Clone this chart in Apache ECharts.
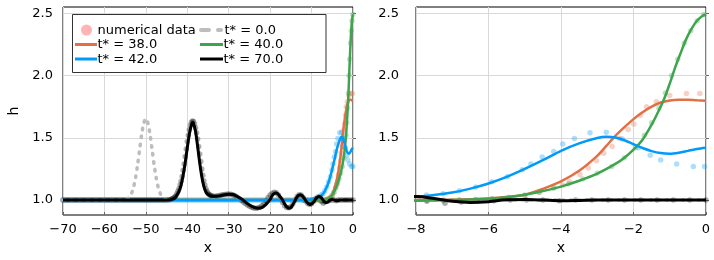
<!DOCTYPE html>
<html><head><meta charset="utf-8">
<script src="https://cdn.jsdelivr.net/npm/echarts@6/dist/echarts.min.js"></script>
<style>html,body{margin:0;padding:0;background:#fff}#c{width:714px;height:260px}</style>
</head><body><div id="c"></div>
<script>
// ---------- data ----------
const yTicks = [1.0, 1.5, 2.0, 2.5];
const xRangeLeft = [-70, 0];
const xRangeRight = [-8, 0];
const lineNames = ['t* = 0.0', 't* = 38.0', 't* = 40.0', 't* = 42.0', 't* = 70.0'];
const dataName = 'numerical data';

const line0 = [[-70,1],[-57,1],[-56,1.001],[-55,1.004],[-54.5,1.01],[-54,1.023],[-53.5,1.05],[-53,1.10],[-52.5,1.177],[-52,1.283],[-51.5,1.407],[-51,1.528],[-50.5,1.617],[-50,1.655],[-49.5,1.617],[-49,1.528],[-48.5,1.407],[-48,1.283],[-47.5,1.177],[-47,1.10],[-46.5,1.05],[-46,1.023],[-45.5,1.01],[-45,1.004],[-44,1.001],[-43,1],[0,1]];

const line38 = [[-70,1],[-10,1],[-8,1.0],[-7,1.003],[-6,1.013],[-5.5,1.024],[-5,1.042],[-4.5,1.09],[-4,1.15],[-3.5,1.235],[-3,1.355],[-2.75,1.435],[-2.5,1.515],[-2.25,1.585],[-2,1.65],[-1.75,1.705],[-1.5,1.75],[-1.25,1.783],[-1,1.80],[-0.75,1.806],[-0.5,1.805],[-0.25,1.801],[0,1.798]];

const line40 = [[-70,1],[-10,1],[-8,0.995],[-7,1.0],[-6,1.01],[-5.5,1.022],[-5,1.042],[-4.5,1.072],[-4,1.108],[-3.5,1.155],[-3,1.212],[-2.5,1.29],[-2.25,1.34],[-2,1.405],[-1.75,1.485],[-1.5,1.605],[-1.3,1.72],[-1.15,1.815],[-1.0,1.935],[-0.85,2.065],[-0.7,2.18],[-0.55,2.29],[-0.4,2.375],[-0.25,2.44],[-0.1,2.478],[0,2.49]];

const line42 = [[-70,1],[-12,1],[-11,1.002],[-10,1.006],[-9,1.014],[-8.5,1.02],[-8,1.027],[-7.5,1.04],[-7,1.06],[-6.5,1.092],[-6,1.133],[-5.5,1.186],[-5,1.25],[-4.5,1.32],[-4,1.395],[-3.5,1.455],[-3,1.498],[-2.75,1.508],[-2.5,1.502],[-2.25,1.48],[-2,1.448],[-1.75,1.418],[-1.5,1.393],[-1.25,1.377],[-1,1.372],[-0.75,1.38],[-0.5,1.395],[-0.25,1.41],[0,1.42]];

const line70 = [[-70,1],[-46,1],[-44,1.003],[-43,1.015],[-42.5,1.04],[-42,1.07],[-41.5,1.12],[-41,1.2],[-40.5,1.3],[-40,1.42],[-39.5,1.53],[-39,1.605],[-38.75,1.622],[-38.5,1.615],[-38,1.55],[-37.5,1.43],[-37,1.30],[-36.5,1.19],[-36,1.11],[-35.5,1.065],[-35,1.045],[-34,1.03],[-33,1.03],[-32,1.035],[-31,1.042],[-30,1.046],[-29,1.044],[-28,1.03],[-27,1.01],[-26,0.985],[-25,0.96],[-24,0.943],[-23,0.935],[-22,0.94],[-21,0.965],[-20,1.005],[-19.5,1.035],[-19,1.052],[-18.5,1.056],[-18,1.045],[-17,1.0],[-16.5,0.968],[-16,0.945],[-15.5,0.935],[-15,0.94],[-14.5,0.965],[-14,0.995],[-13.5,1.025],[-13,1.04],[-12.5,1.04],[-12,1.025],[-11.5,1.0],[-11,0.978],[-10.5,0.965],[-10,0.968],[-9.5,0.985],[-9,1.008],[-8.5,1.025],[-8,1.028],[-7.5,1.012],[-7,0.99],[-6.5,0.981],[-6,0.987],[-5.5,1.002],[-5,1.004],[-4.5,1.0],[-4,0.995],[-3.5,0.997],[-3,1.0],[-2,1.0],[-1,1.0],[0,1.0]];

const dots38 = [[-12,1],[-11,1],[-10,1],[-9,1],
[-8.15,1],[-7.7,1.0],[-7.25,1.0],[-6.8,1.0],[-6.35,1.005],[-5.9,1.01],[-5.45,1.02],[-5.0,1.035],[-4.6,1.06],[-4.2,1.1],[-3.95,1.12],[-3.76,1.147],[-3.48,1.206],[-3.25,1.257],[-3.02,1.315],[-2.82,1.375],[-2.59,1.43],[-2.38,1.495],[-2.15,1.567],[-1.99,1.61],[-1.81,1.68],[-1.64,1.75],[-1.37,1.79],[-1.0,1.84],[-0.54,1.855],[-0.17,1.855]];

const dots40 = [[-12,1],[-11,1],[-10,1],[-9,1],
[-8.15,1],[-7.7,1.0],[-7.25,0.995],[-6.8,1.0],[-6.35,1.005],[-5.9,1.01],[-5.45,1.02],[-5.0,1.04],[-4.6,1.065],[-4.2,1.095],[-3.8,1.13],[-3.4,1.17],[-3.0,1.215],[-2.6,1.27],[-2.25,1.34],[-1.95,1.42],[-1.7,1.52],[-1.5,1.62],[-1.3,1.74],[-1.12,1.86],[-0.95,2.0],[-0.78,2.13],[-0.6,2.26],[-0.42,2.36],[-0.24,2.44],[-0.06,2.49]];

const dots42 = [
[-70,1],[-69.5,1],[-69,1],[-68.5,1],[-68,1],[-67.5,1],[-67,1],[-66.5,1],[-66,1],[-65.5,1],[-65,1],[-64.5,1],[-64,1],[-63.5,1],[-63,1],[-62.5,1],[-62,1],[-61.5,1],[-61,1],[-60.5,1],
[-60,1],[-59.5,1],[-59,1],[-58.5,1],[-58,1],[-57.5,1],[-57,1],[-56.5,1],[-56,1],[-55.5,1],[-55,1],[-54.5,1],[-54,1],[-53.5,1],[-53,1],[-52.5,1],[-52,1],[-51.5,1],[-51,1],[-50.5,1],
[-50,1],[-49.5,1],[-49,1],[-48.5,1],[-48,1],[-47.5,1],[-47,1],[-46.5,1],[-46,1],[-45.5,1],[-45,1],[-44.5,1],[-44,1],[-43.5,1],[-43,1],[-42.5,1],[-42,1],[-41.5,1],[-41,1],[-40.5,1],
[-40,1],[-39.5,1],[-39,1],[-38.5,1],[-38,1],[-37.5,1],[-37,1],[-36.5,1],[-36,1],[-35.5,1],[-35,1],[-34.5,1],[-34,1],[-33.5,1],[-33,1],[-32.5,1],[-32,1],[-31.5,1],[-31,1],[-30.5,1],
[-30,1],[-29.5,1],[-29,1],[-28.5,1],[-28,1],[-27.5,1],[-27,1],[-26.5,1],[-26,1],[-25.5,1],[-25,1],[-24.5,1],[-24,1],[-23.5,1],[-23,1],[-22.5,1],[-22,1],[-21.5,1],[-21,1],[-20.5,1],
[-20,1],[-19.5,1],[-19,1],[-18.5,1],[-18,1],[-17.5,1],[-17,1],[-16.5,1],[-16,1],[-15.5,1],[-15,1],[-14.5,1],[-14,1],[-13.5,1],[-13,1],[-12.5,1],[-12,1],[-11.5,1],[-11,1],[-10.5,1],
[-10,1.002],[-9.5,1.005],[-9,1.01],[-8.6,1.015],
[-8.15,1.025],[-7.71,1.04],[-7.25,1.05],[-6.8,1.075],[-6.35,1.105],[-5.91,1.146],[-5.48,1.188],[-5.07,1.243],[-4.83,1.29],[-4.52,1.345],[-4.2,1.39],[-3.95,1.45],[-3.63,1.495],[-3.2,1.54],[-2.75,1.545],[-2.31,1.49],[-1.86,1.42],[-1.54,1.36],[-1.25,1.322],[-0.81,1.29],[-0.35,1.27],[-0.04,1.27]];

const dots70 = [
[-70,1],[-69.5,1],[-69,1],[-68.5,1],[-68,1],[-67.5,1],[-67,1],[-66.5,1],[-66,1],[-65.5,1],[-65,1],[-64.5,1],[-64,1],[-63.5,1],[-63,1],[-62.5,1],[-62,1],[-61.5,1],[-61,1],[-60.5,1],
[-60,1],[-59.5,1],[-59,1],[-58.5,1],[-58,1],[-57.5,1],[-57,1],[-56.5,1],[-56,1],[-55.5,1],[-55,1],[-54.5,1],[-54,1],[-53.5,1],[-53,1],[-52.5,1],[-52,1],[-51.5,1],[-51,1],[-50.5,1],
[-50,1],[-49.5,1],[-49,1],[-48.5,1],[-48,1],[-47.5,1],[-47,1],[-46.5,1],[-46,1],[-45.5,1],[-45,1],[-44.5,1.002],
[-44,1.005],[-43.75,1.008],[-43.5,1.012],[-43.25,1.018],[-43,1.025],[-42.75,1.035],[-42.5,1.05],[-42.25,1.07],[-42,1.09],[-41.75,1.12],[-41.5,1.15],[-41.25,1.19],[-41,1.24],[-40.75,1.29],[-40.5,1.35],[-40.25,1.41],[-40,1.47],[-39.75,1.52],[-39.5,1.565],[-39.25,1.6],[-39,1.625],[-38.75,1.635],[-38.5,1.63],[-38.25,1.61],[-38,1.58],[-37.75,1.54],[-37.5,1.49],[-37.25,1.43],[-37,1.37],[-36.75,1.31],[-36.5,1.25],[-36.25,1.2],[-36,1.155],[-35.75,1.12],[-35.5,1.09],[-35.25,1.07],[-35,1.055],[-34.75,1.045],[-34.5,1.04],[-34.25,1.035],[-34,1.033],
[-33.5,1.03],[-33,1.032],[-32.5,1.035],[-32,1.038],[-31.5,1.042],[-31,1.045],[-30.5,1.047],[-30,1.048],[-29.5,1.047],[-29,1.043],[-28.5,1.035],[-28,1.025],[-27.5,1.012],[-27,0.998],[-26.5,0.985],[-26,0.972],[-25.5,0.96],[-25,0.95],[-24.5,0.942],[-24,0.937],[-23.5,0.935],[-23,0.936],[-22.5,0.942],[-22,0.955],[-21.5,0.972],[-21,0.995],[-20.5,1.02],[-20,1.04],[-19.5,1.055],[-19,1.062],[-18.5,1.058],[-18,1.04],[-17.5,1.01],[-17,0.98],[-16.5,0.955],[-16,0.94],[-15.5,0.938],[-15,0.948],[-14.5,0.97],[-14,1.0],[-13.5,1.028],[-13,1.042],[-12.5,1.04],[-12,1.02],[-11.5,0.995],[-11,0.975],[-10.5,0.965],[-10,0.97],[-9.5,0.99],[-9,1.01],[-8.5,1.025],[-8.1,1.02],
[-7.7,0.99],[-7.2,0.975],[-6.75,0.985],[-6.3,0.99],[-5.85,0.995],[-5.4,1.0],[-4.95,1.0],[-4.5,1.0],[-4.05,0.995],[-3.6,1.0],[-3.15,1.0],[-2.7,1.0],[-2.25,1.0],[-1.8,1.0],[-1.35,1.0],[-0.9,1.0],[-0.45,1.0],[0,1.0]];

// ---------- styling ----------
const F = '"DejaVu Sans", sans-serif';
const C0 = '#bdbdbd', C38 = '#e36f47', C40 = '#3ea44e', C42 = '#009afa', C70 = '#000000';
const fmtX = v => (v < 0 ? '\u2212' + (-v) : String(v));

function xAxisCfg(gi, range, interval) {
  return {
    type: 'value', gridIndex: gi, min: range[0], max: range[1], interval: interval,
    name: 'x', nameLocation: 'middle', nameGap: 26,
    nameTextStyle: { fontFamily: F, fontSize: 14, color: '#000' },
    axisLine: { show: false },
    axisTick: { show: true, inside: true, length: 3, lineStyle: { color: '#666' } },
    axisLabel: { margin: 8, fontFamily: F, fontSize: 13, color: '#000', formatter: fmtX },
    splitLine: { show: true, lineStyle: { color: '#d9d9d9', width: 1 } }
  };
}
function yAxisCfg(gi, margin, name) {
  return {
    type: 'value', gridIndex: gi, min: 0.88, max: 2.55,
    name: name, nameLocation: 'middle', nameGap: 42,
    nameTextStyle: { fontFamily: F, fontSize: 14, color: '#000' },
    axisLine: { show: false },
    axisTick: { show: true, inside: true, length: 3, customValues: yTicks, lineStyle: { color: '#666' } },
    axisLabel: { margin: margin, fontFamily: F, fontSize: 13, color: '#000', customValues: yTicks, formatter: v => v.toFixed(1) },
    splitLine: { show: true, customValues: yTicks, lineStyle: { color: '#d9d9d9', width: 1 } }
  };
}

function both(cfg) {
  return [0, 1].map(i => Object.assign({}, cfg, { xAxisIndex: i, yAxisIndex: i }));
}
function dots(data, color) {
  return both({ type: 'scatter', name: dataName, data: data, symbol: 'circle', symbolSize: 5.5, z: 2, zlevel: 0,
    itemStyle: { color: color, opacity: 0.32 }, silent: true, clip: true });
}
function line(name, data, color, width, dash, zz) {
  return both({ type: 'line', name: name, data: data, symbol: 'none', showSymbol: false, smooth: 0.3, z: zz, zlevel: 1,
    lineStyle: { color: color, width: width, type: dash || 'solid', cap: dash ? 'round' : 'butt' },
    silent: true, clip: true });
}

const series = [].concat(
  dots(dots38, C38), dots(dots40, C40), dots(dots42, C42), dots(dots70, C70),
  line(lineNames[0], line0, C0, 3.5, [1.5, 6.5], 3),
  line(lineNames[1], line38, C38, 2.5, null, 4),
  line(lineNames[2], line40, C40, 2.5, null, 5),
  line(lineNames[3], line42, C42, 2.5, null, 6),
  line(lineNames[4], line70, C70, 3, null, 7)
);

// legend drawn as graphic (layout like the reference)
const LT = { fontFamily: F, fontSize: 13, fill: '#000', verticalAlign: 'middle', align: 'left' };
function txt(x, y, t) { return { type: 'text', x: x, y: y, z: 102, zlevel: 2, style: Object.assign({ text: t }, LT) }; }
function seg(x1, x2, y, color, w, dash) {
  return { type: 'line', z: 101, zlevel: 2, shape: { x1: x1, y1: y, x2: x2, y2: y },
    style: { stroke: color, lineWidth: w, lineDash: dash || null, lineCap: dash ? 'round' : 'butt' } };
}
const graphic = [
  { type: 'rect', z: 100, zlevel: 2, shape: { x: 72.5, y: 14.5, width: 253.5, height: 58 }, style: { fill: '#fff', stroke: '#333', lineWidth: 1 } },
  { type: 'circle', z: 101, zlevel: 2, shape: { cx: 86.5, cy: 30, r: 5.5 }, style: { fill: '#ffb3b3' } },
  txt(97.5, 30.5, dataName),
  seg(201, 221, 30, C0, 4, [8, 9]),
  txt(224.5, 30.5, lineNames[0]),
  seg(75, 97, 44.5, C38, 3),
  txt(97.5, 45, lineNames[1]),
  seg(200, 223, 44.5, C40, 3),
  txt(223.5, 45, lineNames[2]),
  seg(75, 97, 59, C42, 3),
  txt(97.5, 59.5, lineNames[3]),
  seg(200, 223, 59, C70, 3),
  txt(223.5, 59.5, lineNames[4])
];

const chart = echarts.init(document.getElementById('c'), null, { renderer: 'canvas' });
chart.setOption({
  animation: false,
  backgroundColor: '#fff',
  textStyle: { fontFamily: F },
  grid: [
    { left: 63, top: 7, width: 290, height: 208, show: true, borderColor: '#000', borderWidth: 1, backgroundColor: 'transparent' },
    { left: 416, top: 7, width: 290, height: 208, show: true, borderColor: '#000', borderWidth: 1, backgroundColor: 'transparent' }
  ],
  xAxis: [xAxisCfg(0, xRangeLeft, 10), xAxisCfg(1, xRangeRight, 2)],
  yAxis: [yAxisCfg(0, 10, 'h'), yAxisCfg(1, 17, '')],
  series: series,
  graphic: graphic
});
</script></body></html>
